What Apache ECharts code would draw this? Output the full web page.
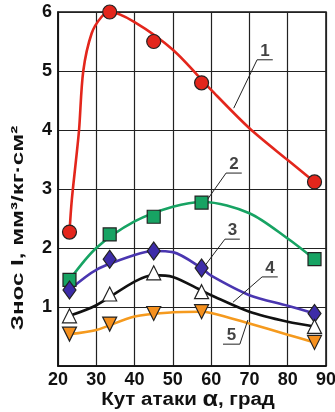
<!DOCTYPE html>
<html><head><meta charset="utf-8">
<script src="https://cdn.jsdelivr.net/npm/echarts@6/dist/echarts.min.js"></script>
<style>html,body{margin:0;padding:0;background:#fff}#c{width:335px;height:412px}</style>
</head><body><div id="c"></div>
<script>
// measured points
var angles = [23, 33.5, 45, 57.5, 87];
var s1 = [2.27, 6.0, 5.5, 4.8, 3.12];
var s2 = [1.46, 2.23, 2.53, 2.77, 1.81];
var s3 = [1.29, 1.81, 1.95, 1.66, 0.89];
var s4 = [0.85, 1.22, 1.58, 1.26, 0.67];
var s5 = [0.54, 0.71, 0.89, 0.92, 0.40];
// fitted curves
var c1 = [[23,2.27],[23.6,2.81],[24.7,3.49],[25.5,4.0],[26.6,5.0],[28.8,5.64],[31.4,5.92],[33.5,6.0],[40,5.83],[50,5.36],[60,4.68],[70,4.03],[80,3.49],[87,3.12]];
var c2 = [[23,1.46],[30,2.0],[40,2.45],[50,2.70],[58,2.78],[70,2.59],[80,2.16],[87,1.81]];
var c3 = [[23,1.29],[30,1.63],[40,1.88],[45,1.95],[50,1.93],[57.5,1.66],[60,1.53],[70,1.20],[80,1.02],[87,0.89]];
var c4 = [[23,0.85],[30,1.03],[40,1.43],[45,1.54],[50,1.51],[57.5,1.28],[60,1.20],[70,0.92],[80,0.75],[87,0.67]];
var c5 = [[23,0.54],[30,0.61],[40,0.84],[50,0.91],[57,0.92],[60,0.90],[70,0.72],[80,0.53],[87,0.40]];
// curve labels and leader lines (data coords)
var labelNames = ['1','2','3','4','5'];
var leaders = [
  [[65.9,4.37],[72.0,5.19],[76.1,5.19]],
  [[58.9,2.81],[63.9,3.27],[68.0,3.27]],
  [[57.9,1.66],[63.6,2.15],[67.5,2.15]],
  [[65.7,1.08],[73.3,1.51],[77.4,1.51]],
  [[69.6,0.78],[67.5,0.37],[63.1,0.37]]
];
var xTitle = 'Кут атаки {a|α}, град';
var yTitle = 'Знос I, мм³/кг·см²';

var FONT = 'Liberation Sans, Arial, sans-serif';
var colors = ['#e3261c','#17a363','#4a36b0','#111111','#f59a1e'];
var fills = ['#e3261c','#17a363','#3d2ca8','#ffffff','#f5901e'];
var symbols = ['circle','rect','diamond','triangle','path://M0,0 L10,0 L5,9 Z'];
var sizes = [14, 13, [13,18], 14, 14];
var pts = [s1,s2,s3,s4,s5];
var curves = [c1,c2,c3,c4,c5];

var series = [];
curves.forEach(function(c,i){
  series.push({type:'line', data:c, smooth:0.3, showSymbol:false, silent:true,
    lineStyle:{color:colors[i], width:2.6}, z:3});
});
pts.forEach(function(p,i){
  series.push({type:'scatter', data:angles.map(function(a,j){return [a,p[j]];}),
    symbol:symbols[i], symbolSize:sizes[i],
    itemStyle:{color:fills[i], borderColor:'#222', borderWidth:1.2, opacity:1}, z:5});
});
leaders.forEach(function(l,i){
  series.push({type:'line', data:l, showSymbol:false, silent:true,
    lineStyle:{color:'#222', width:1}, z:4});
  var mid = [(l[1][0]+l[2][0])/2, l[1][1]];
  series.push({type:'scatter', data:[mid], symbolSize:0, silent:true, z:6,
    label:{show:true, position:'top', distance:0, formatter:labelNames[i],
      fontFamily:FONT, fontWeight:'bold', fontSize:17, color:'#111'}});
});

var chart = echarts.init(document.getElementById('c'));
chart.setOption({
  backgroundColor:'#fff',
  animation:false,
  grid:{left:58, right:9, top:12, bottom:46, outerBoundsMode:'none', containLabel:false,
    show:true, borderColor:'#111', borderWidth:1.5},
  xAxis:{type:'value', min:20, max:90, interval:10,
    axisLine:{show:true, lineStyle:{color:'#111', width:1.5}},
    axisTick:{show:false},
    splitLine:{show:true, lineStyle:{color:'#222', width:1.2}},
    axisLabel:{color:'#111', fontFamily:FONT, fontWeight:'bold', fontSize:18, margin:5}
  },
  yAxis:{type:'value', min:0, max:6, interval:1,
    axisLine:{show:true, lineStyle:{color:'#111', width:1.5}},
    axisTick:{show:false},
    splitLine:{show:true, lineStyle:{color:'#222', width:1.2}},
    axisLabel:{color:'#111', fontFamily:FONT, fontWeight:'bold', fontSize:18, margin:6,
      formatter:function(v){return v===0?'':String(v);}}
  },
  graphic:[
    {type:'text', x:18, y:228, rotation:Math.PI/2, scaleX:1.42,
      style:{text:yTitle, align:'center', verticalAlign:'middle',
        fill:'#111', fontFamily:FONT, fontWeight:'bold', fontSize:17}},
    {type:'text', x:188, y:400, scaleX:1.14,
      style:{text:xTitle, align:'center', verticalAlign:'middle',
        fill:'#111', fontFamily:FONT, fontWeight:'bold', fontSize:18,
        rich:{a:{fontFamily:FONT, fontWeight:'bold', fontSize:22, fill:'#111'}}}}
  ],
  series:series
});
</script></body></html>
